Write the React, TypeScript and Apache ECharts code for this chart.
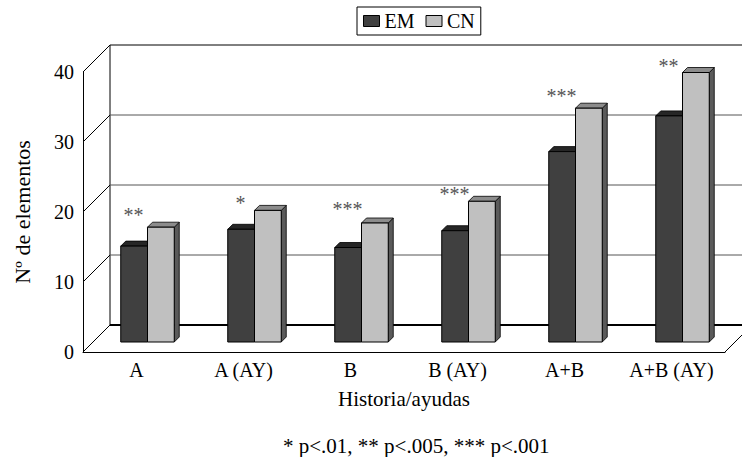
import React, { useEffect, useRef } from "react";
import * as echarts from "echarts";

const categories = ["A", "A (AY)", "B", "B (AY)", "A+B", "A+B (AY)"];
const emValues = [13.7, 16.1, 13.5, 15.9, 27.2, 32.3];
const cnValues = [16.4, 18.8, 17.0, 20.1, 33.4, 38.5];
const sigMarks = ["**", "*", "***", "***", "***", "**"];
const sigLevels = [18.1, 19.8, 19.0, 21.1, 35.2, 39.5];
const yTicks = [0, 10, 20, 30, 40];
const footnote = "* p<.01, ** p<.005, *** p<.001";

const FONT = '"Liberation Serif", "Times New Roman", serif';
const WALL_D = 27;
const BAR_DX = 11;
const BAR_DY = 10;
const BAR_D = 5;

function barRender(slot: number, front: string, topC: string, side: string) {
  return (params: any, api: any) => {
    const i = api.value(0);
    const v = api.value(1);
    const base = api.coord([i, 0]);
    const top = api.coord([i, v]);
    const cw = api.size([1, 0])[0];
    const bw = cw * 0.25;
    const L = base[0] - bw + slot * bw + BAR_DX;
    const R = L + bw;
    const B = base[1] - BAR_DY;
    const T = top[1] - BAR_DY;
    const d = BAR_D;
    return {
      type: "group",
      children: [
        {
          type: "polygon",
          shape: { points: [[R, T], [R + d, T - d], [R + d, B - d], [R, B]] },
          style: { fill: side, stroke: "#000", lineWidth: 0.8 },
        },
        {
          type: "polygon",
          shape: { points: [[L, T], [L + d, T - d], [R + d, T - d], [R, T]] },
          style: { fill: topC, stroke: "#000", lineWidth: 0.8 },
        },
        {
          type: "rect",
          shape: { x: L, y: T, width: bw, height: B - T },
          style: { fill: front, stroke: "#000", lineWidth: 1 },
        },
      ],
    };
  };
}

function wallRender(params: any, api: any) {
  const v = api.value(1);
  const cs = params.coordSys;
  const x0 = cs.x;
  const x1 = cs.x + cs.width;
  const y = api.coord([0, v])[1];
  const children: any[] = [];
  const isFloor = v === yTicks[0];
  const isTop = v === yTicks[yTicks.length - 1];
  children.push({
    type: "line",
    shape: { x1: x0 + WALL_D, y1: y - WALL_D, x2: x1 + WALL_D, y2: y - WALL_D },
    style: {
      stroke: isFloor || isTop ? "#000" : "#555",
      lineWidth: isFloor ? 2 : 1,
    },
  });
  children.push({
    type: "line",
    shape: { x1: x0, y1: y, x2: x0 + WALL_D, y2: y - WALL_D },
    style: { stroke: "#000", lineWidth: 1 },
  });
  if (isFloor) {
    const yTop = api.coord([0, yTicks[yTicks.length - 1]])[1];
    children.push({
      type: "line",
      shape: { x1: x0 + WALL_D, y1: y - WALL_D, x2: x0 + WALL_D, y2: yTop - WALL_D },
      style: { stroke: "#000", lineWidth: 1 },
    });
    children.push({
      type: "line",
      shape: { x1: x1, y1: y, x2: x1 + WALL_D, y2: y - WALL_D },
      style: { stroke: "#000", lineWidth: 1 },
    });
  }
  return { type: "group", children };
}

function sigRender(params: any, api: any) {
  const i = api.value(0);
  const v = api.value(1);
  const p = api.coord([i, v]);
  return {
    type: "text",
    x: p[0] - 3,
    y: p[1] - BAR_DY,
    style: {
      text: sigMarks[i],
      fill: "#555",
      font: `20px ${FONT}`,
      textAlign: "center",
      textVerticalAlign: "middle",
    },
  };
}

export default function App() {
  const ref = useRef<HTMLDivElement>(null);
  useEffect(() => {
    if (!ref.current) return;
    const chart = echarts.init(ref.current, null, { renderer: "svg" });
    chart.setOption({
      animation: false,
      backgroundColor: "#fff",
      title: {
        text: footnote,
        left: 278,
        top: 430,
        textStyle: { fontFamily: FONT, fontSize: 21, fontWeight: "normal", color: "#000" },
      },
      legend: {
        data: ["EM", "CN"],
        left: 357,
        top: 7,
        padding: [4, 6, 4, 6],
        borderColor: "#000",
        borderWidth: 1,
        itemWidth: 16,
        itemHeight: 11,
        itemGap: 11,
        icon: "rect",
        itemStyle: { borderColor: "#000", borderWidth: 1 },
        textStyle: { fontFamily: FONT, fontSize: 20, color: "#000" },
      },
      grid: { left: 83, right: 17, top: 72, bottom: 105 },
      xAxis: {
        type: "category",
        data: categories,
        axisLine: { lineStyle: { color: "#000", width: 1 } },
        axisTick: { show: false },
        axisLabel: { fontFamily: FONT, fontSize: 20, color: "#000", margin: 8, interval: 0 },
        name: "Historia/ayudas",
        nameLocation: "middle",
        nameGap: 36,
        nameTextStyle: { fontFamily: FONT, fontSize: 21, color: "#000" },
      },
      yAxis: {
        type: "value",
        min: 0,
        max: 40,
        interval: 10,
        axisLine: { show: true, lineStyle: { color: "#000", width: 1 } },
        axisTick: { show: false },
        splitLine: { show: false },
        axisLabel: { fontFamily: FONT, fontSize: 20, color: "#000", margin: 9 },
        name: "Nº de elementos",
        nameLocation: "middle",
        nameGap: 50,
        nameTextStyle: { fontFamily: FONT, fontSize: 22, color: "#000" },
      },
      series: [
        {
          type: "custom",
          name: "wall",
          z: 1,
          silent: true,
          data: yTicks.map((v) => [0, v]),
          encode: { x: 0, y: 1 },
          renderItem: wallRender,
        },
        {
          type: "custom",
          name: "EM",
          z: 2,
          itemStyle: { color: "#404040", borderColor: "#000", borderWidth: 1 },
          data: emValues.map((v, i) => [i, v]),
          encode: { x: 0, y: 1 },
          renderItem: barRender(0, "#404040", "#262626", "#303030"),
        },
        {
          type: "custom",
          name: "CN",
          z: 3,
          itemStyle: { color: "#c0c0c0", borderColor: "#000", borderWidth: 1 },
          data: cnValues.map((v, i) => [i, v]),
          encode: { x: 0, y: 1 },
          renderItem: barRender(1, "#c0c0c0", "#8c8c8c", "#5a5a5a"),
        },
        {
          type: "custom",
          name: "sig",
          z: 4,
          silent: true,
          data: sigLevels.map((v, i) => [i, v]),
          encode: { x: 0, y: 1 },
          renderItem: sigRender,
        },
      ],
    });
    return () => chart.dispose();
  }, []);
  return (
    <div
      ref={ref}
      style={{ position: "absolute", left: 0, top: 0, width: 742, height: 457 }}
    />
  );
}
